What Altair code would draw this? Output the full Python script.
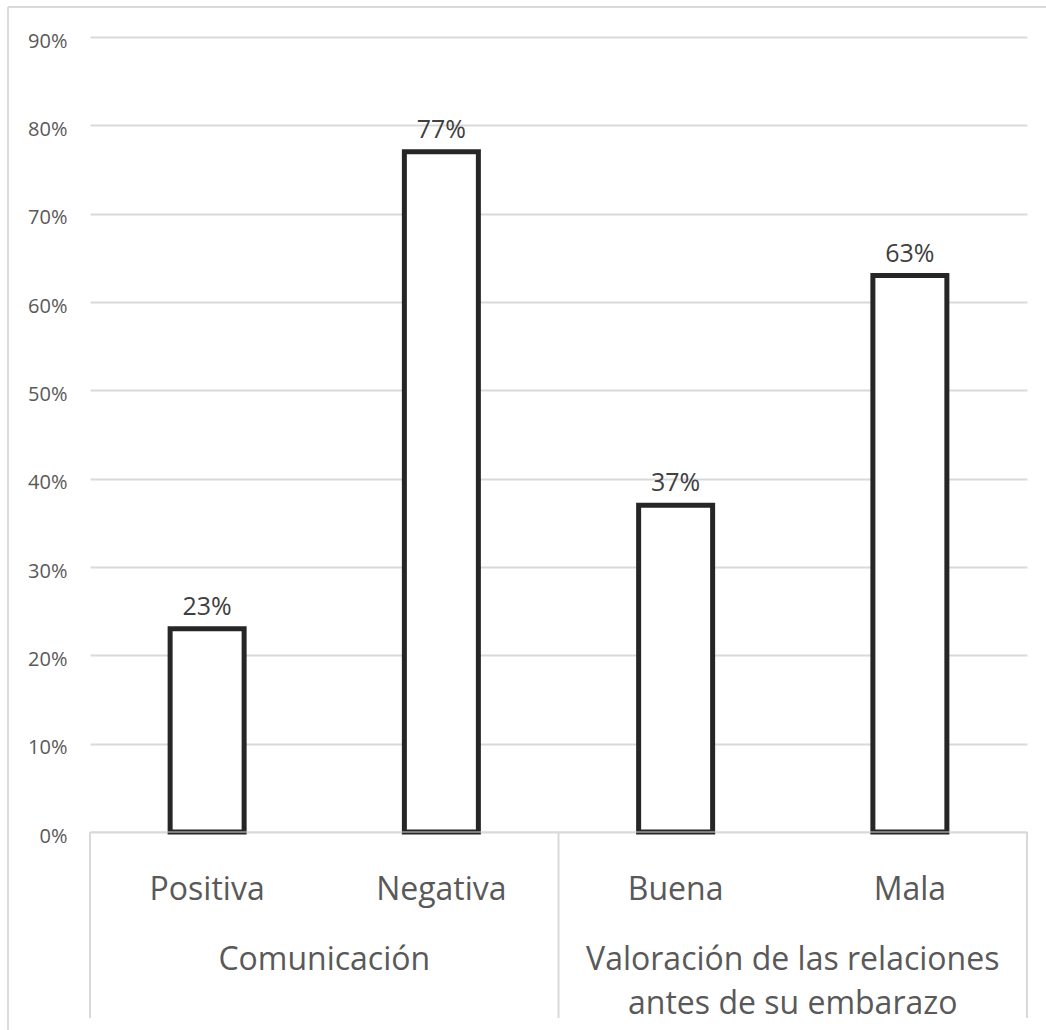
import altair as alt
import pandas as pd

# Survey results: share of respondents per answer, grouped by question
categorias = ["Positiva", "Negativa", "Buena", "Mala"]
grupos = [
    "Comunicación",
    "Comunicación",
    "Valoración de las relaciones\nantes de su embarazo",
    "Valoración de las relaciones\nantes de su embarazo",
]
porcentajes = [0.23, 0.77, 0.37, 0.63]
marcas_eje = [0.0, 0.1, 0.2, 0.3, 0.4, 0.5, 0.6, 0.7, 0.8, 0.9]

FONT = "Open Sans"
GRIS_TEXTO = "#595959"
GRIS_LINEA = "#d9d9d9"
W, H = 937, 795

df = pd.DataFrame({
    "categoria": categorias,
    "grupo": grupos,
    "pct": porcentajes,
    "pos": list(range(len(categorias))),
})
df["etiqueta"] = (df["pct"] * 100).round().astype(int).astype(str) + "%"

# one label per question, centred under its answers
grp = df.groupby("grupo", sort=False)["pos"].agg(["min", "max"]).reset_index()
grp["centro"] = (grp["min"] + grp["max"]) / 2
limites = sorted(set(list(grp["min"] - 0.5) + list(grp["max"] + 0.5)))
lim_df = pd.DataFrame({"lim": limites})
cero_df = pd.DataFrame({"x0": [limites[0]], "x1": [limites[-1]], "pct": [0.0]})

x_scale = alt.Scale(
    domain=[-0.5, len(categorias) - 0.5], nice=False, zero=False, padding=0
)
y_enc = alt.Y(
    "pct:Q",
    scale=alt.Scale(domain=[0, 0.9], nice=False, padding=0),
    axis=alt.Axis(
        values=marcas_eje,
        format=".0%",
        grid=True,
        gridColor=GRIS_LINEA,
        gridWidth=2,
        domain=False,
        ticks=False,
        labelFontSize=20,
        labelFont=FONT,
        labelColor=GRIS_TEXTO,
        labelPadding=23,
        labelOffset=4,
        title=None,
    ),
)

base = alt.Chart(df)

barras = base.mark_bar(size=74, fill="white", stroke="#262626", strokeWidth=5).encode(
    x=alt.X("pos:Q", scale=x_scale, axis=None), y=y_enc
)

linea_cero = alt.Chart(cero_df).mark_rule(color=GRIS_LINEA, strokeWidth=1).encode(
    x="x0:Q", x2="x1:Q", y="pct:Q"
)

valores = base.mark_text(
    dy=-14, baseline="alphabetic", fontSize=25, font=FONT, color="#404040"
).encode(x="pos:Q", y="pct:Q", text="etiqueta:N")

nombres = base.mark_text(
    baseline="alphabetic", fontSize=32, font=FONT, color=GRIS_TEXTO
).encode(x="pos:Q", y=alt.value(863), text="categoria:N")

titulos_grupo = alt.Chart(grp).mark_text(
    baseline="alphabetic", fontSize=32, font=FONT, color=GRIS_TEXTO,
    lineBreak="\n", lineHeight=44,
).encode(x="centro:Q", y=alt.value(933), text="grupo:N")

separadores = alt.Chart(lim_df).mark_rule(color=GRIS_LINEA, strokeWidth=2).encode(
    x="lim:Q", y=alt.value(H), y2=alt.value(981)
)

# light frame along the top and left edges
marco = pd.DataFrame({"k": [0]})
borde_sup = alt.Chart(marco).mark_rule(color=GRIS_LINEA, strokeWidth=2).encode(
    x=alt.value(-82), x2=alt.value(W + 40), y=alt.value(-30)
)
borde_izq = alt.Chart(marco).mark_rule(color=GRIS_LINEA, strokeWidth=2).encode(
    x=alt.value(-82), y=alt.value(-30), y2=alt.value(H + 220)
)

chart = alt.layer(
    barras, separadores, borde_sup, borde_izq, linea_cero, valores, nombres, titulos_grupo
).properties(
    width=W,
    height=H,
    autosize=alt.AutoSizeParams(type="none"),
    padding={"left": 90, "top": 37, "right": 19, "bottom": 198},
    background="white",
).configure_view(stroke=None)

chart.save("out.html", embed_options={"renderer": "svg", "actions": False})
